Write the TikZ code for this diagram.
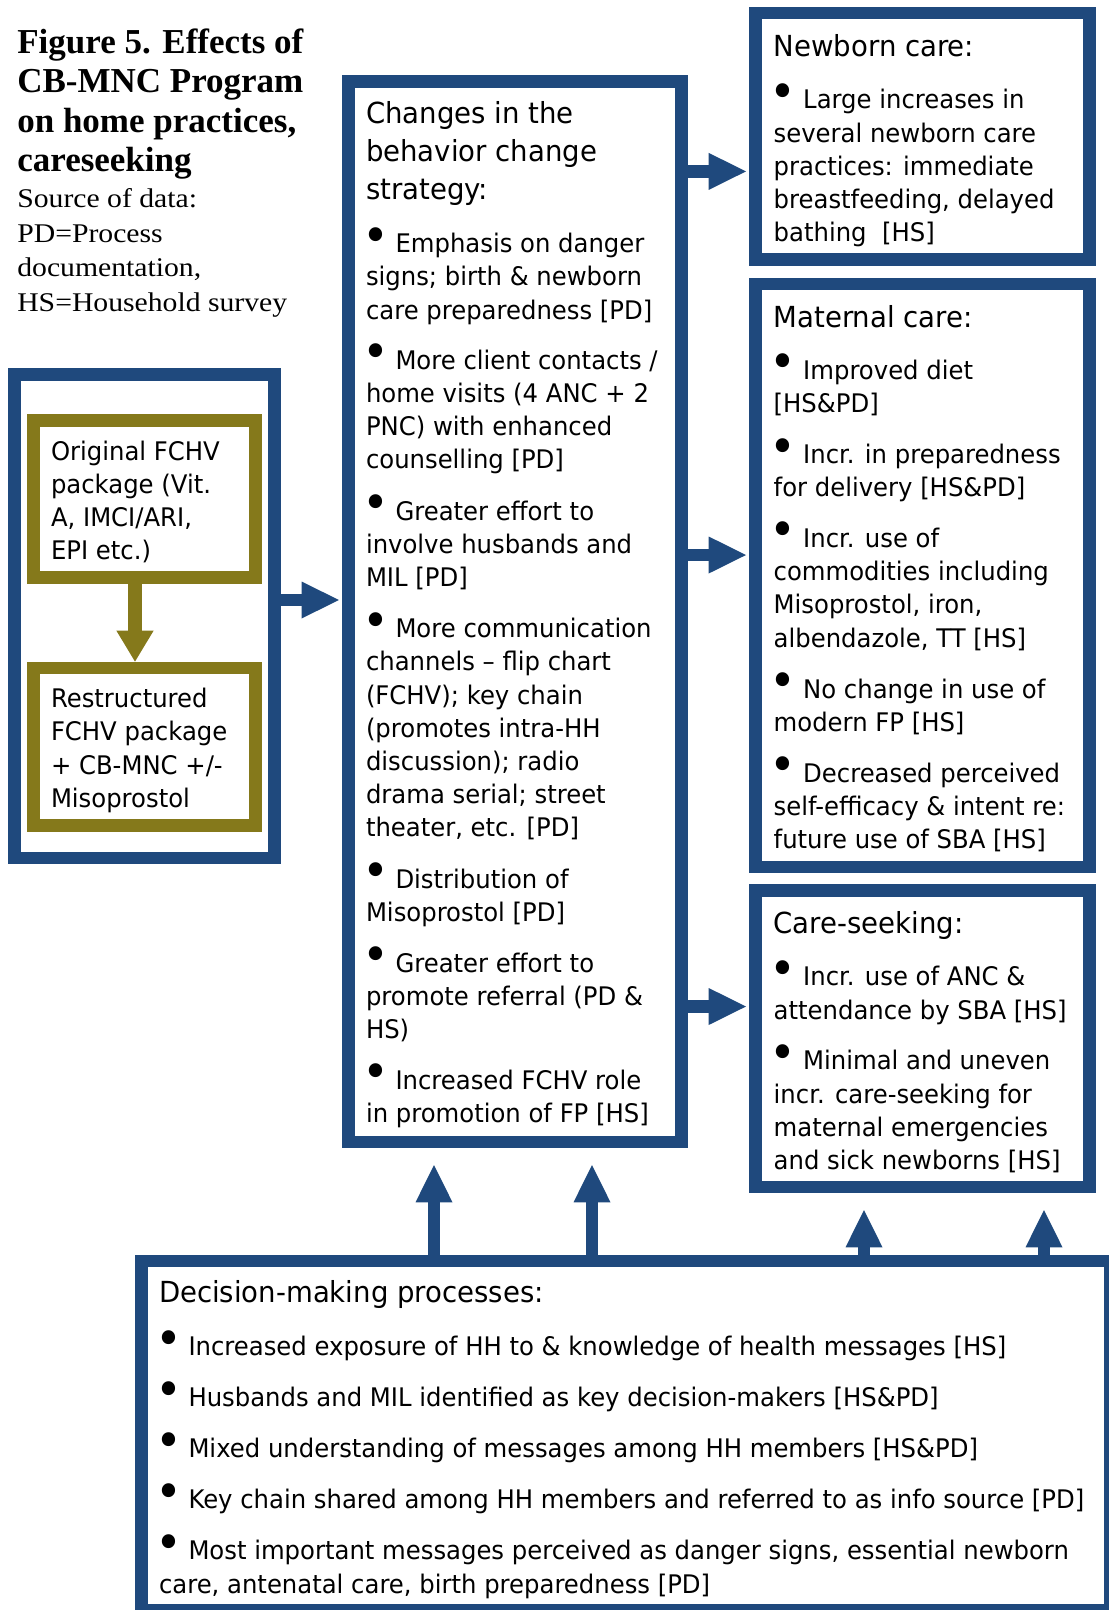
\documentclass[tikz,border=0pt]{standalone}
\usepackage{fontspec}
\setmainfont{Liberation Serif}
\newfontfamily\tahfont{DejaVu Sans}[FakeStretch=0.95]
\newfontfamily\subfont{Liberation Serif}[FakeStretch=1.1]
\usetikzlibrary{arrows.meta}
\definecolor{navy}{RGB}{31,73,125}
\definecolor{olivec}{RGB}{133,121,27}
\newcommand\headfont{\tahfont\fontsize{29}{38}\selectfont}
\newcommand\bodyfont{\tahfont\fontsize{25.6}{33.2}\selectfont}
\newcommand\bul{\makebox[29.5pt][l]{\hspace{-4pt}\raisebox{0.5pt}{\fontsize{48}{48}\selectfont •}}}
\newcommand\blk[2]{\parbox[t]{#1}{#2}}

\begin{document}
\begin{tikzpicture}[x=1pt,y=-1pt,
  bluebox/.style={draw=navy, line width=12.6pt, inner sep=0pt},
  ogbox/.style={draw=olivec, line width=12.6pt, inner sep=0pt},
  txt/.style={anchor=base west, inner sep=0pt, outer sep=0pt, text=black},
  bluearrow/.style={draw=navy, line width=12.5pt,
    -{Triangle[length=37.3pt,width=37pt,line width=0pt]}},
  olivearrow/.style={draw=olivec, line width=13.7pt,
    -{Triangle[length=31pt,width=37.3pt,line width=0pt]}}]

\useasboundingbox (0,0) rectangle (1109,1610);
\clip (0,0) rectangle (1109,1610);

% ---- frames ----
\node[bluebox, minimum width=259.7pt, minimum height=483.4pt] (pkg) at (144.5,616.3) {};
\node[ogbox, minimum width=222.3pt, minimum height=156.9pt] (orig) at (144.45,499.05) {};
\node[ogbox, minimum width=222.3pt, minimum height=157.6pt] (restr) at (144.45,746.7) {};
\node[bluebox, minimum width=333.3pt, minimum height=1060.8pt] (bcc) at (514.85,611.6) {};
\node[bluebox, minimum width=333.9pt, minimum height=246.5pt] (nbc) at (922.55,136.25) {};
\node[bluebox, minimum width=333.9pt, minimum height=583pt] (mat) at (922.55,575.5) {};
\node[bluebox, minimum width=333.9pt, minimum height=296.4pt] (cs) at (922.55,1038.8) {};
\node[bluebox, minimum width=969.4pt, minimum height=349.8pt] (dm) at (626,1435.8) {};

% ---- title ----
\node[txt] (title) at (17.3,53.3) {\blk{330pt}{\bfseries\fontsize{35}{39.5}\selectfont
  Figure 5. Effects of\\CB-MNC Program\\on home practices,\\careseeking}};
\node[txt] (source) at (17.3,207.2) {\blk{330pt}{\subfont\fontsize{27}{34.8}\selectfont
  Source of data:\\PD=Process\\documentation,\\HS=Household survey}};

% ---- FCHV packages ----
\node[txt] (origt) at (51,460.1) {\blk{200pt}{\bodyfont
  Original FCHV\\package (Vit.\\A, IMCI/ARI,\\EPI etc.)}};
\node[txt] (restrt) at (51,707.6) {\blk{200pt}{\bodyfont
  Restructured\\FCHV package\\+ CB-MNC +/-\\Misoprostol}};

% ---- behavior change strategy ----
\node[txt] (bcch) at (366,123.3) {\blk{320pt}{\headfont
  Changes in the\\behavior change\\strategy:}};
\node[txt] (bcc1) at (366,252.7) {\blk{330pt}{\bodyfont
  \bul Emphasis on danger\\signs; birth \& newborn\\care preparedness [PD]}};
\node[txt] (bcc2) at (366,369.3) {\blk{330pt}{\bodyfont
  \bul More client contacts /\\home visits (4 ANC + 2\\PNC) with enhanced\\counselling [PD]}};
\node[txt] (bcc3) at (366,520) {\blk{330pt}{\bodyfont
  \bul Greater effort to\\involve husbands and\\MIL [PD]}};
\node[txt] (bcc4) at (366,637.6) {\blk{330pt}{\bodyfont
  \bul More communication\\channels – flip chart\\(FCHV); key chain\\(promotes intra-HH\\discussion); radio\\drama serial; street\\theater, etc. [PD]}};
\node[txt] (bcc5) at (366,888) {\blk{330pt}{\bodyfont
  \bul Distribution of\\Misoprostol [PD]}};
\node[txt] (bcc6) at (366,972) {\blk{330pt}{\bodyfont
  \bul Greater effort to\\promote referral (PD \&\\HS)}};
\node[txt] (bcc7) at (366,1089.2) {\blk{330pt}{\bodyfont
  \bul Increased FCHV role\\in promotion of FP [HS]}};

% ---- newborn care ----
\node[txt] (nbch) at (773.7,56.5) {\blk{320pt}{\headfont Newborn care:}};
\node[txt] (nbc1) at (773.7,108.9) {\blk{320pt}{\bodyfont
  \bul Large increases in\\several newborn care\\practices: immediate\\breastfeeding, delayed\\bathing\ \ [HS]}};

% ---- maternal care ----
\node[txt] (math) at (773.7,327.3) {\blk{320pt}{\headfont Maternal care:}};
\node[txt] (mat1) at (773.7,379) {\blk{320pt}{\bodyfont
  \bul Improved diet\\{}[HS\&PD]}};
\node[txt] (mat2) at (773.7,463.6) {\blk{320pt}{\bodyfont
  \bul Incr. in preparedness\\for delivery [HS\&PD]}};
\node[txt] (mat3) at (773.7,547.4) {\blk{320pt}{\bodyfont
  \bul Incr. use of\\commodities including\\Misoprostol, iron,\\albendazole, TT [HS]}};
\node[txt] (mat4) at (773.7,698.4) {\blk{320pt}{\bodyfont
  \bul No change in use of\\modern FP [HS]}};
\node[txt] (mat5) at (773.7,782.4) {\blk{320pt}{\bodyfont
  \bul Decreased perceived\\self-efficacy \& intent re:\\future use of SBA [HS]}};

% ---- care-seeking ----
\node[txt] (csh) at (773.7,933.2) {\blk{320pt}{\headfont Care-seeking:}};
\node[txt] (cs1) at (773.7,985.9) {\blk{320pt}{\bodyfont
  \bul Incr. use of ANC \&\\attendance by SBA [HS]}};
\node[txt] (cs2) at (773.7,1069.9) {\blk{320pt}{\bodyfont
  \bul Minimal and uneven\\incr. care-seeking for\\maternal emergencies\\and sick newborns [HS]}};

% ---- decision-making processes ----
\node[txt] (dmh) at (159,1302.9) {\blk{940pt}{\headfont Decision-making processes:}};
\node[txt] (dm1) at (159,1355.6) {\blk{940pt}{\bodyfont
  \bul Increased exposure of HH to \& knowledge of health messages [HS]}};
\node[txt] (dm2) at (159,1406.8) {\blk{940pt}{\bodyfont
  \bul Husbands and MIL identified as key decision-makers [HS\&PD]}};
\node[txt] (dm3) at (159,1457.6) {\blk{940pt}{\bodyfont
  \bul Mixed understanding of messages among HH members [HS\&PD]}};
\node[txt] (dm4) at (159,1508.6) {\blk{940pt}{\bodyfont
  \bul Key chain shared among HH members and referred to as info source [PD]}};
\node[txt] (dm5) at (159,1559.8) {\blk{940pt}{\bodyfont
  \bul Most important messages perceived as danger signs, essential newborn\\care, antenatal care, birth preparedness [PD]}};

% ---- connectors ----
\coordinate (ya) at (0,600);
\coordinate (yn) at (0,171.4);
\coordinate (ym) at (0,555);
\coordinate (yc) at (0,1006.5);
\coordinate (xo) at (135,0);
\coordinate (u1) at (434,0);
\coordinate (u2) at (592,0);
\coordinate (u3) at (864,0);
\coordinate (u4) at (1044,0);

\draw[olivearrow] (orig.south -| xo) -- (restr.north -| xo);
\draw[bluearrow, shorten >=3pt] (pkg.east |- ya) -- (bcc.west |- ya);
\draw[bluearrow, shorten >=3.3pt] (bcc.east |- yn) -- (nbc.west |- yn);
\draw[bluearrow, shorten >=3.3pt] (bcc.east |- ym) -- (mat.west |- ym);
\draw[bluearrow, shorten >=3.3pt] (bcc.east |- yc) -- (cs.west |- yc);
\draw[bluearrow, shorten >=16.7pt] (dm.north -| u1) -- (bcc.south -| u1);
\draw[bluearrow, shorten >=16.7pt] (dm.north -| u2) -- (bcc.south -| u2);
\draw[bluearrow, shorten >=16.7pt] (dm.north -| u3) -- (cs.south -| u3);
\draw[bluearrow, shorten >=16.7pt] (dm.north -| u4) -- (cs.south -| u4);
\end{tikzpicture}
\end{document}
